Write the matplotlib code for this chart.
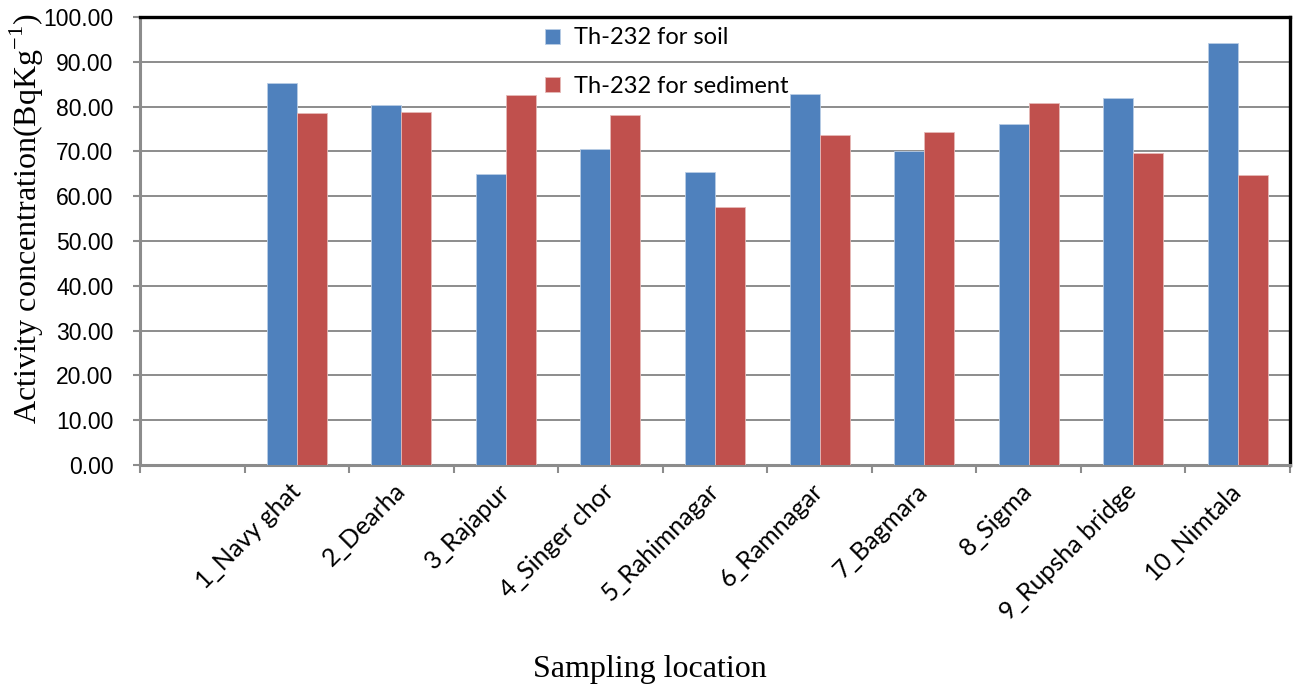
import numpy as np
import matplotlib
matplotlib.use("Agg")
import matplotlib.pyplot as plt

# sampling locations and Th-232 activity (Bq/kg)
locations = ["1_Navy ghat", "2_Dearha", "3_Rajapur", "4_Singer chor", "5_Rahimnagar",
             "6_Ramnagar", "7_Bagmara", "8_Sigma", "9_Rupsha bridge", "10_Nimtala"]
soil = [85.2, 80.3, 64.9, 70.5, 65.5, 82.9, 70.0, 76.1, 81.9, 94.1]
sediment = [78.5, 78.9, 82.6, 78.1, 57.5, 73.6, 74.3, 80.8, 69.7, 64.8]
yticks = [0, 10, 20, 30, 40, 50, 60, 70, 80, 90, 100]

plt.rcParams['mathtext.fontset'] = 'custom'
plt.rcParams['mathtext.rm'] = 'Liberation Serif'

fig = plt.figure(figsize=(13.03, 6.91), dpi=100)
ax = fig.add_axes([140/1303, 1-465/691, 1150/1303, 448/691])

# first slot on the axis is left empty
x = np.arange(1, len(locations) + 1)
w = 0.287
ax.bar(x - w/2, soil, w, color='#4F81BD', edgecolor='#B9CDE5', linewidth=0.6,
       label='Th-232 for soil', zorder=3)
ax.bar(x + w/2, sediment, w, color='#C0504D', edgecolor='#E6B9B8', linewidth=0.6,
       label='Th-232 for sediment', zorder=3)

ax.set_xlim(-0.5, len(locations) + 0.5)
ax.set_ylim(0, 100)
ax.set_yticks(yticks)
ax.set_yticklabels(['%.2f' % v for v in yticks], fontfamily='Liberation Sans', fontsize=16.5)
ax.yaxis.grid(True, color='#8C8C8C', linewidth=1.4, zorder=0)
ax.set_axisbelow(True)

# category ticks on the boundaries, labels at the centres
ax.set_xticks(np.arange(-0.5, len(locations) + 1, 1.0), minor=True)
ax.set_xticks(x)
ax.set_xticklabels(locations, rotation=45, rotation_mode='anchor', ha='right', va='center',
                   fontfamily='Lato', fontsize=18)
ax.tick_params(axis='x', which='major', length=0, pad=16)
ax.tick_params(axis='x', which='minor', length=6, width=1.5, color='#8C8C8C', direction='out')
ax.tick_params(axis='y', length=5, width=1.5, color='#8C8C8C', pad=14)

for side in ['left', 'bottom']:
    ax.spines[side].set_color('#8C8C8C')
    ax.spines[side].set_linewidth(2.2)
for side in ['top', 'right']:
    ax.spines[side].set_color('black')
    ax.spines[side].set_linewidth(2.4)

ax.set_ylabel('Activity concentration(BqKg$^{\\mathrm{-1}}$)', fontfamily='Liberation Serif',
              fontsize=23, va='center')
ax.yaxis.set_label_coords(-0.098, 0.549)
fig.text(650/1303, 1-670/691, 'Sampling location', fontfamily='Liberation Serif', fontsize=23,
         ha='center', va='center')

ax.legend(loc='upper left', bbox_to_anchor=(536/1303, 1-18/691), bbox_transform=fig.transFigure,
          frameon=False, prop={'family': 'Lato', 'size': 17}, handlelength=0.6, handleheight=0.6,
          handletextpad=0.6, labelspacing=1.15, borderaxespad=0)

fig.savefig('out.png', dpi=100)
